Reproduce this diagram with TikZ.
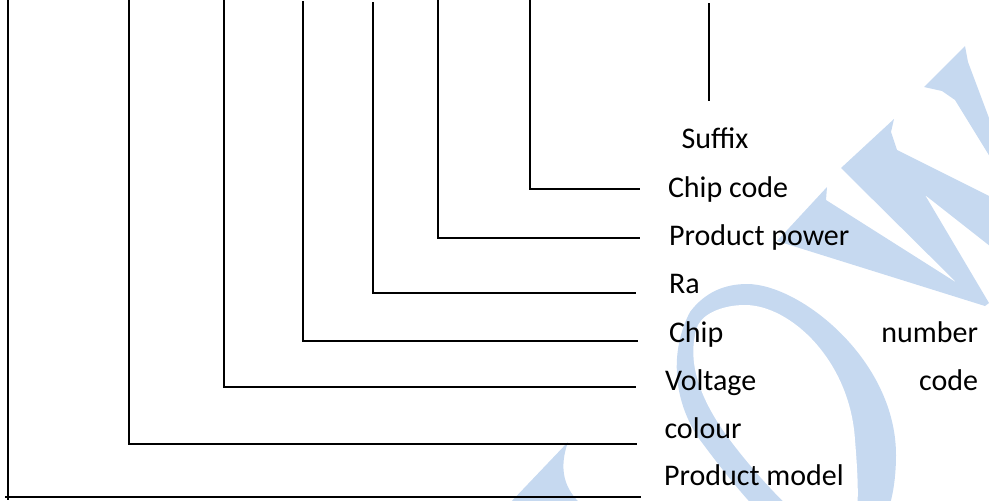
\documentclass[tikz,border=0pt]{standalone}
\usepackage{fontspec}
\setmainfont{Carlito}
\definecolor{wm}{RGB}{198,217,240}
\begin{document}
\begin{tikzpicture}[x=1pt,y=-1pt,
  conn/.style={line width=1.4pt, black},
  lbl/.style={anchor=base west, inner sep=0pt, outer sep=0pt, font=\fontsize{30}{32}\selectfont},
  wmark/.style={fill=wm, draw=none}]
\useasboundingbox (0,0) rectangle (989,501);
% watermark (behind everything)
\begin{scope}
\clip (0,0) rectangle (989,501);
\fill[wm] (747,284) .. controls (800,284) and (896,360) .. (896,455)
  .. controls (896,520) and (870,560) .. (835,560)
  .. controls (790,560) and (730,480) .. (700,440)
  .. controls (672,400) and (670,350) .. (690,312)
  .. controls (705,292) and (725,284) .. (747,284) -- cycle;
\fill[white] (745,305) .. controls (790,305) and (850,360) .. (855,440)
  .. controls (860,500) and (860,540) .. (840,540)
  .. controls (815,540) and (760,480) .. (730,440)
  .. controls (700,400) and (685,360) .. (698,325)
  .. controls (705,312) and (725,305) .. (745,305) -- cycle;
\fill[wmark] (777,241) -- (827,187) -- (826,200) -- (957,283) -- (845,172) -- (841,168)
  -- (894,119) -- (891,132) -- (897,150) -- (995,199) -- (995,250) -- (925,195)
  -- (989,303) -- (985,306) -- cycle;
\fill[wmark] (924,87) -- (965,46) -- (968,62) -- (995,134) -- (995,165) -- (955,100) -- (942,91) -- cycle;
\fill[wmark] (568,442) .. controls (558,470) and (565,490) .. (582,505) -- (508,505) -- cycle;
\end{scope}
% labels
\node[lbl] (suffix)   at (681.5,148) {Suffix};
\node[lbl] (chipcode) at (668,197) {Chip code};
\node[lbl] (power)    at (669,245) {Product power};
\node[lbl] (ra)       at (669,293) {Ra};
\node[lbl] (chipnum)  at (669,342) {\makebox[309pt][l]{Chip\hfill number}};
\node[lbl] (voltage)  at (665,390) {\makebox[313pt][l]{Voltage\hfill code}};
\node[lbl] (colour)   at (664.5,438) {colour};
\node[lbl] (model)    at (664,485) {Product model};
% connector end points
\coordinate (pm-top)   at (8,0);
\coordinate (pm-foot)  at (8,500);
\coordinate (pm-start) at (5,497);
\coordinate (pm-end)   at (641,497);
\coordinate (co-top) at (129,0);   \coordinate (co-end) at (637,444);
\coordinate (vo-top) at (224,0);   \coordinate (vo-end) at (636,387);
\coordinate (cn-top) at (303,1);   \coordinate (cn-end) at (638,341);
\coordinate (ra-top) at (373,2);   \coordinate (ra-end) at (636,293);
\coordinate (pp-top) at (438,0);   \coordinate (pp-end) at (640,238);
\coordinate (cc-top) at (530,0);   \coordinate (cc-end) at (640,189);
\coordinate (sf-top) at (709,3);   \coordinate (sf-end) at (709,101);
% connectors
\draw[conn] (pm-top) -- (pm-foot);
\draw[conn] (pm-start) -- (pm-end);
\draw[conn] (co-top) |- (co-end);
\draw[conn] (vo-top) |- (vo-end);
\draw[conn] (cn-top) |- (cn-end);
\draw[conn] (ra-top) |- (ra-end);
\draw[conn] (pp-top) |- (pp-end);
\draw[conn] (cc-top) |- (cc-end);
\draw[conn] (sf-top) -- (sf-end);
\end{tikzpicture}
\end{document}
